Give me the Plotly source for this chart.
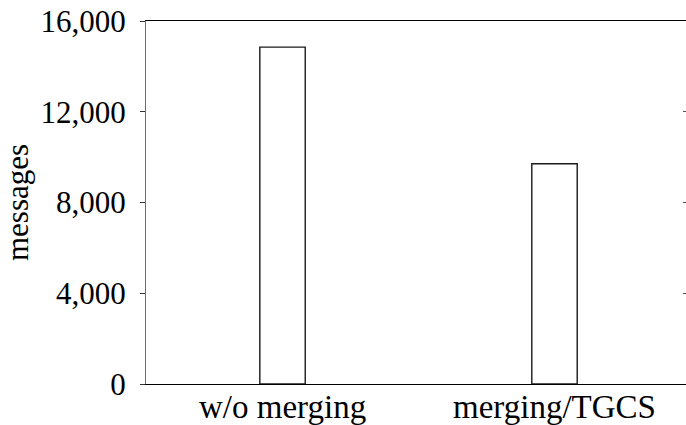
import plotly.graph_objects as go

# Message counts for the two configurations
categories = ["w/o merging", "merging/TGCS"]
messages = [14850, 9710]
y_ticks = [0, 4000, 8000, 12000, 16000]
y_tick_text = ["0", "4,000", "8,000", "12,000", "16,000"]

FONT = "'Liberation Serif', 'Times New Roman', 'DejaVu Serif', serif"

fig = go.Figure()
fig.add_trace(go.Bar(
    x=categories,
    y=messages,
    width=0.167,
    marker=dict(color="white", line=dict(color="#1a1a1a", width=1.4)),
    showlegend=False,
    hoverinfo="skip",
))
# invisible helper trace so the mirrored right-hand axis is drawn
fig.add_trace(go.Scatter(
    x=[categories[0]], y=[0], yaxis="y2", mode="markers",
    marker=dict(opacity=0), showlegend=False, hoverinfo="skip",
))

# category labels placed just under the bottom axis line
for cat in categories:
    fig.add_annotation(
        x=cat, xref="x", y=0, yref="paper",
        text=cat, showarrow=False,
        xanchor="center", yanchor="top", yshift=-3,
        font=dict(family=FONT, size=33, color="black"),
    )

fig.update_layout(
    width=686,
    height=425,
    margin=dict(l=146, r=0, t=21, b=41),
    paper_bgcolor="white",
    plot_bgcolor="white",
    font=dict(family=FONT, color="black", size=31),
    xaxis=dict(
        type="category",
        range=[-0.502, 1.4835],
        showline=True,
        linecolor="black",
        linewidth=1.3,
        mirror=True,
        ticks="",
        showticklabels=False,
        showgrid=False,
        zeroline=False,
        automargin=False,
    ),
    yaxis=dict(
        range=[0, 16000],
        tickvals=y_ticks,
        ticktext=y_tick_text,
        showline=True,
        linecolor="#6e6e6e",
        linewidth=1.3,
        ticks="outside",
        ticklen=5,
        tickwidth=1.2,
        tickcolor="#333333",
        ticklabelstandoff=8,
        showgrid=False,
        zeroline=False,
        automargin=False,
        tickfont=dict(family=FONT, size=31),
        title=dict(text="messages", font=dict(family=FONT, size=31), standoff=8),
    ),
    yaxis2=dict(
        overlaying="y",
        side="right",
        range=[0, 16000],
        tickvals=y_ticks,
        showticklabels=False,
        showline=False,
        ticks="inside",
        ticklen=3,
        tickwidth=1,
        tickcolor="#555555",
        showgrid=False,
        zeroline=False,
        automargin=False,
    ),
)

fig.write_html("out.html")
